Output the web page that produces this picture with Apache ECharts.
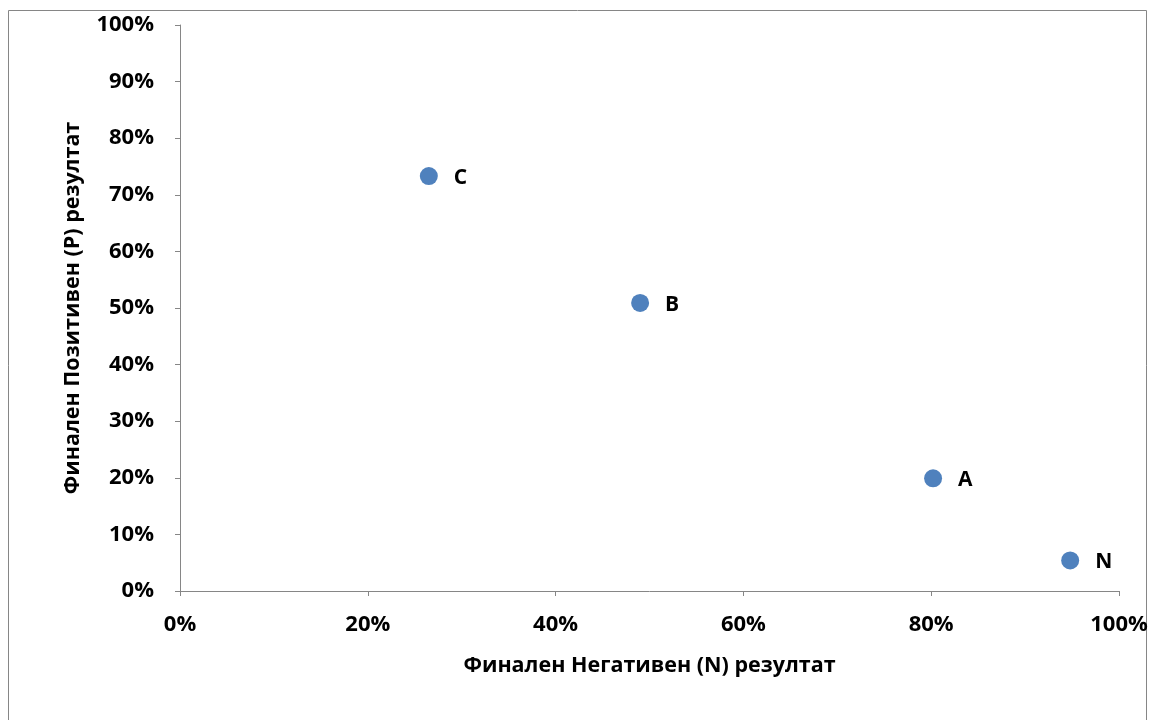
<!DOCTYPE html>
<html><head><meta charset="utf-8">
<script src="https://cdn.jsdelivr.net/npm/echarts@6/dist/echarts.min.js"></script>
<style>html,body{margin:0;padding:0;background:#fff}#c{width:1159px;height:720px}</style>
</head><body><div id="c"></div>
<script>
const pointNames = ['C', 'B', 'A', 'N'];
const negativeValues = [26.5, 49.0, 80.2, 94.8];
const positiveValues = [73.3, 50.9, 19.9, 5.4];
const xTitle = 'Финален Негативен (N) резултат';
const yTitle = 'Финален Позитивен (P) резултат';

const chart = echarts.init(document.getElementById('c'));
const font = 'Open Sans';
const axisColor = '#868686';
chart.setOption({
  animation: false,
  graphic: [{type: 'rect', shape: {x: 8.5, y: 10.5, width: 1138, height: 760}, style: {fill: 'none', stroke: axisColor, lineWidth: 1}}],
  grid: {left: 180, right: 40, top: 25, bottom: 129},
  xAxis: {
    type: 'value', min: 0, max: 100, interval: 20,
    name: xTitle, nameLocation: 'middle', nameGap: 64,
    nameTextStyle: {fontFamily: font, fontWeight: 'bold', fontSize: 21.5, color: '#000'},
    axisLine: {show: true, lineStyle: {color: axisColor}},
    axisTick: {show: true, length: 5, lineStyle: {color: axisColor}},
    splitLine: {show: false},
    axisLabel: {formatter: '{value}%', fontFamily: font, fontWeight: 'bold', fontSize: 22, color: '#000', margin: 23}
  },
  yAxis: {
    type: 'value', min: 0, max: 100, interval: 10,
    name: yTitle, nameLocation: 'middle', nameGap: 96,
    nameTextStyle: {fontFamily: font, fontWeight: 'bold', fontSize: 21.5, color: '#000'},
    axisLine: {show: true, lineStyle: {color: axisColor}},
    axisTick: {show: true, length: 5, lineStyle: {color: axisColor}},
    splitLine: {show: false},
    axisLabel: {formatter: '{value}%', fontFamily: font, fontWeight: 'bold', fontSize: 22, color: '#000', margin: 26}
  },
  series: [{
    type: 'scatter', symbolSize: 18,
    itemStyle: {color: '#4f81bd', opacity: 1},
    label: {show: true, position: 'right', distance: 16, offset: [0, 2], formatter: p => p.data[2],
      fontFamily: font, fontWeight: 'bold', fontSize: 21, color: '#000'},
    data: pointNames.map((n, i) => [negativeValues[i], positiveValues[i], n])
  }]
});
</script></body></html>
